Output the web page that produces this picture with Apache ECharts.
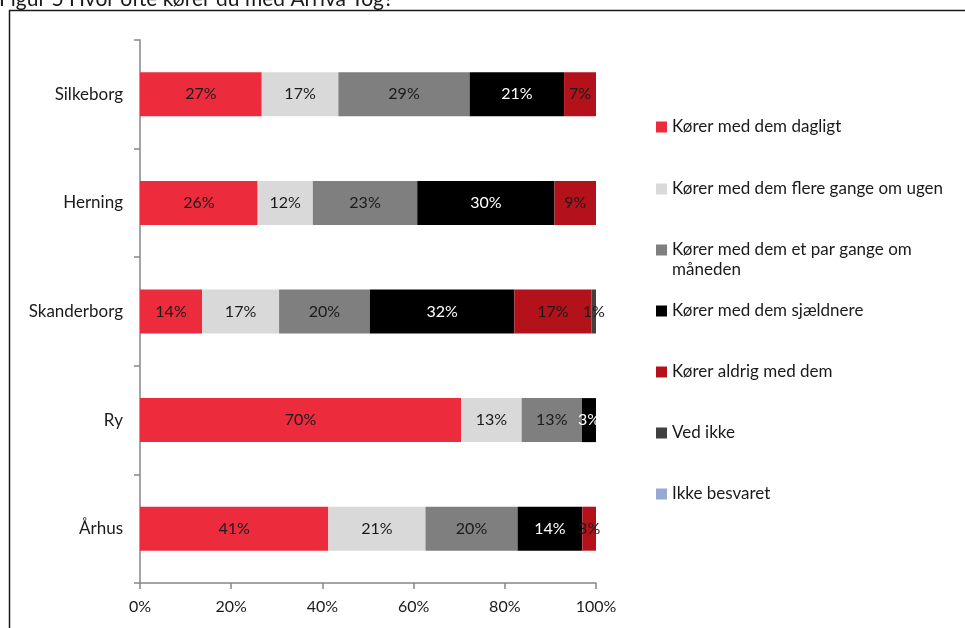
<!DOCTYPE html>
<html>
<head>
<meta charset="utf-8">
<script src="https://cdn.jsdelivr.net/npm/echarts@6/dist/echarts.min.js"></script>
<style>
  html, body { margin: 0; padding: 0; background: #ffffff; }
  #chart { width: 965px; height: 628px; }
</style>
</head>
<body>
<div id="chart"></div>
<script>
// Towns, top to bottom
const towns = ['Silkeborg', 'Herning', 'Skanderborg', 'Ry', 'Århus'];

// Answer categories
const answers = [
  'Kører med dem dagligt',
  'Kører med dem flere gange om ugen',
  'Kører med dem et par gange om måneden',
  'Kører med dem sjældnere',
  'Kører aldrig med dem',
  'Ved ikke',
  'Ikke besvaret'
];

// Share of respondents (%) per answer, in town order
const dagligt      = [26.7, 25.8, 13.6, 70.4, 41.3];
const flereGange   = [16.8, 12.1, 16.9, 13.3, 21.3];
const parGange     = [28.8, 22.9, 19.9, 13.2, 20.2];
const sjaeldnere   = [20.7, 30.1, 31.7, 3.1, 14.2];
const aldrig       = [7.0, 9.1, 16.9, 0, 3.0];
const vedIkke      = [0, 0, 1.0, 0, 0];
const ikkeBesvaret = [0, 0, 0, 0, 0];

// Axis tick labels
const xTicks = ['0%', '20%', '40%', '60%', '80%', '100%'];

const seriesValues = [dagligt, flereGange, parGange, sjaeldnere, aldrig, vedIkke, ikkeBesvaret];
const colors = ['#EC2B3C', '#D9D9D9', '#7F7F7F', '#000000', '#B4121B', '#404040', '#95A9D3'];
const labelColors = ['#1a1a1a', '#1a1a1a', '#1a1a1a', '#ffffff', '#1a1a1a', '#1a1a1a', '#1a1a1a'];

const FONT = 'Lato, "Open Sans", sans-serif';

// Legend rows: one legend per answer so each sits at its own row.
// The long entry wraps; a leading (non-breaking space) line keeps its first
// line level with the swatch.
const legendTops = [117, 179, 220, 301, 362, 423, 484];
const legendText = {
  [answers[2]]: '\u00a0\nKører med dem et par gange om\nmåneden'
};
const legends = answers.map((name, i) => ({
  data: [name],
  orient: 'vertical',
  left: 656,
  top: legendTops[i],
  padding: 0,
  icon: 'rect',
  itemWidth: 11,
  itemHeight: 11,
  selectedMode: false,
  formatter: n => legendText[n] || n,
  textStyle: { fontFamily: FONT, fontSize: 17, color: '#1a1a1a', lineHeight: 20 }
}));

const chart = echarts.init(document.getElementById('chart'), null, { renderer: 'canvas' });

chart.setOption({
  animation: false,
  backgroundColor: '#ffffff',
  title: {
    text: 'Figur 5 Hvor ofte kører du med Arriva Tog?',
    left: -1,
    top: -11,
    padding: 0,
    textStyle: { fontFamily: FONT, fontSize: 21, fontWeight: 'normal', color: '#1a1a1a' }
  },
  graphic: [{
    type: 'rect',
    shape: { x: 9.5, y: 10.5, width: 1000, height: 700 },
    style: { fill: 'none', stroke: '#1a1a1a', lineWidth: 1.5 },
    silent: true,
    z: -1
  }],
  legend: legends,
  grid: { left: 140, right: 369, top: 40, bottom: 45, containLabel: false },
  xAxis: {
    type: 'value',
    min: 0,
    max: 100,
    interval: 20,
    axisLine: { show: true, lineStyle: { color: '#868686', width: 1.5 } },
    axisTick: { show: true, length: 6, lineStyle: { color: '#868686', width: 1.5 } },
    splitLine: { show: false },
    axisLabel: {
      margin: 16,
      fontFamily: FONT,
      fontSize: 16,
      color: '#1a1a1a',
      formatter: v => xTicks[Math.round(v / 20)]
    }
  },
  yAxis: {
    type: 'category',
    data: towns,
    inverse: true,
    axisLine: { show: true, lineStyle: { color: '#868686', width: 1.5 } },
    axisTick: { show: true, length: 6, lineStyle: { color: '#868686', width: 1.5 } },
    axisLabel: { margin: 17, fontFamily: FONT, fontSize: 17, color: '#1a1a1a' }
  },
  series: answers.map((name, i) => ({
    name: name,
    type: 'bar',
    stack: 'total',
    barWidth: 44,
    data: seriesValues[i],
    itemStyle: { color: colors[i] },
    label: {
      show: true,
      position: 'inside',
      fontFamily: FONT,
      fontSize: 16,
      color: labelColors[i],
      formatter: p => p.value >= 0.5 ? Math.round(p.value) + '%' : ''
    }
  }))
});
</script>
</body>
</html>
